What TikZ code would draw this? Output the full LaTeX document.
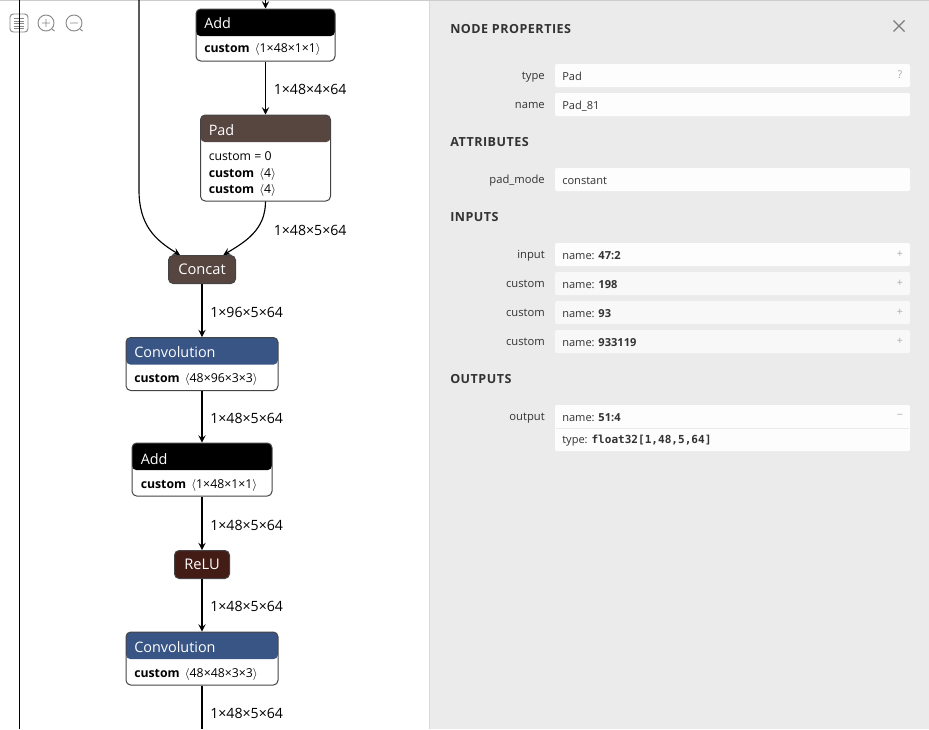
\documentclass[tikz,border=0pt]{standalone}
\usepackage{fontspec}
\setmainfont{Open Sans}
\setmonofont{DejaVu Sans Mono}
\usetikzlibrary{arrows.meta}

\definecolor{panelgray}{HTML}{EBEBEB}
\definecolor{rowgray}{HTML}{F8F8F8}
\definecolor{rowwhite}{HTML}{FDFDFD}
\definecolor{textgray}{HTML}{333333}
\definecolor{edgegray}{HTML}{444444}
\definecolor{signgray}{HTML}{AAAAAA}
\definecolor{padbrown}{HTML}{574540}
\definecolor{convblue}{HTML}{385585}
\definecolor{relured}{HTML}{441C16}

\tikzset{
    opbox/.style={draw=edgegray, line width=0.75pt, rounded corners=3.5pt, fill=white, inner sep=0pt},
    opsmall/.style={opbox, text=white, font=\fontsize{11}{12}\selectfont},
    headfill/.style={path picture={\fill[#1] (path picture bounding box.north west) rectangle ([yshift=-20.4pt]path picture bounding box.north east);}},
    opname/.style={anchor=west, inner sep=0pt, text=white, font=\fontsize{10.8}{12}\selectfont},
    oparg/.style={anchor=west, inner sep=0pt, text=black, font=\fontsize{9.2}{10}\selectfont},
    shapelabel/.style={anchor=west, inner sep=0pt, text=black, font=\fontsize{10.6}{11}\selectfont},
    flow/.style={-{Stealth[length=5.5pt, width=5.5pt, inset=2.2pt]}, line width=0.85pt, black},
    sidehead/.style={anchor=west, inner sep=0pt, text=textgray, font=\fontsize{9.4}{10}\selectfont\bfseries\addfontfeature{LetterSpace=4}},
    rowlabel/.style={anchor=base east, inner sep=0pt, text=textgray, font=\fontsize{8.4}{10}\selectfont},
    rowvalue/.style={anchor=base west, inner sep=0pt, text=textgray, font=\fontsize{8.3}{10}\selectfont},
    rowsign/.style={inner sep=0pt, text=signgray, font=\fontsize{8}{10}\selectfont},
    rowbox/.style={draw=none, fill=rowwhite, rounded corners=1.5pt, minimum width=266.25pt, minimum height=17.25pt, inner sep=0pt},
    rowboxgray/.style={rowbox, fill=rowgray},
}

\begin{document}
\begin{tikzpicture}[x=0.75pt, y=-0.75pt]
    \useasboundingbox (0, 0) rectangle (929, 729);

    % side panel
    \fill[panelgray] (429.5, 0) rectangle (929, 729);
    \draw[draw=black!15, line width=0.6pt] (429.5, 0) -- (429.5, 729);
    \draw[draw=black!20, line width=1pt] (0, 0.5) -- (929, 0.5);

    % toolbar icons
    \draw[signgray!80!black, line width=0.7pt, rounded corners=2.5pt] (10, 14) rectangle (28, 32);
    \foreach \y in {18.5, 21, 23.5, 26, 28.5}
        \draw[signgray!80!black, line width=0.6pt] (14, \y) -- (24, \y);
    \draw[signgray!80!black, line width=0.7pt] (46, 23) circle (8);
    \draw[signgray!80!black, line width=0.7pt] (42, 23) -- (50, 23) (46, 19) -- (46, 27) (52, 29) -- (54.5, 31);
    \draw[signgray!80!black, line width=0.7pt] (74, 23) circle (8);
    \draw[signgray!80!black, line width=0.7pt] (70, 23) -- (78, 23) (80, 29) -- (82.5, 31);

    % graph nodes
    \node[opbox, headfill=black, minimum width=104.25pt, minimum height=39pt] at (265.5, 35) (add1) {};
    \node[opbox, headfill=padbrown, minimum width=97.5pt, minimum height=64.5pt] at (265.5, 158) (pad) {};
    \node[opsmall, fill=padbrown, minimum width=50.25pt, minimum height=21pt] at (202, 269.5) (concat) {Concat};
    \node[opbox, headfill=convblue, minimum width=114pt, minimum height=39.75pt] at (202, 364) (conv1) {};
    \node[opbox, headfill=black, minimum width=105pt, minimum height=39.75pt] at (202, 469.5) (add2) {};
    \node[opsmall, fill=relured, minimum width=41.25pt, minimum height=21pt] at (202, 564.5) (relu) {ReLU};
    \node[opbox, headfill=convblue, minimum width=114pt, minimum height=39.75pt] at (202, 658.5) (conv2) {};

    \node[opname] at (204, 23) (add1name) {Add};
    \node[oparg] at (204, 49) (add1arg) {\textbf{custom}\, $\langle$1×48×1×1$\rangle$};
    \node[opname] at (208.5, 130) (padname) {Pad};
    \node[oparg] at (208.5, 156) (padarg1) {custom = 0};
    \node[oparg] at (208.5, 174) (padarg2) {\textbf{custom}\, $\langle$4$\rangle$};
    \node[oparg] at (208.5, 190) (padarg3) {\textbf{custom}\, $\langle$4$\rangle$};
    \node[opname] at (134, 352) (conv1name) {Convolution};
    \node[oparg] at (134, 379) (conv1arg) {\textbf{custom}\, $\langle$48×96×3×3$\rangle$};
    \node[opname] at (140.5, 459) (add2name) {Add};
    \node[oparg] at (140.5, 485) (add2arg) {\textbf{custom}\, $\langle$1×48×1×1$\rangle$};
    \node[opname] at (134, 647) (conv2name) {Convolution};
    \node[oparg] at (134, 674) (conv2arg) {\textbf{custom}\, $\langle$48×48×3×3$\rangle$};

    % free ends of the connectors
    \coordinate (rail) at (19.5, 0);
    \coordinate (railend) at (19.5, 729);
    \coordinate (skip) at (139, 0);
    \coordinate (skipbend) at (139, 190);
    \coordinate (addin) at (265.5, 0);
    \coordinate (convout) at (202, 729);

    \draw[line width=0.85pt, black] (rail) -- (railend);
    \draw[flow] (addin) -- (add1.north);
    \draw[flow] (add1.south) -- (pad.north);
    \draw[flow] (skip) -- (skipbend) .. controls (139, 225) and (155, 240) .. ([xshift=-16.5pt]concat.north);
    \draw[flow] (pad.south) .. controls (265.5, 230) and (245, 242) .. ([xshift=16pt]concat.north);
    \draw[flow] (concat.south) -- (conv1.north);
    \draw[flow] (conv1.south) -- (add2.north);
    \draw[flow] (add2.south) -- (relu.north);
    \draw[flow] (relu.south) -- (conv2.north);
    \draw[line width=0.85pt, black] (conv2.south) -- (convout);

    \node[shapelabel] at (273.5, 89) (shape1) {1×48×4×64};
    \node[shapelabel] at (273.5, 230) (shape2) {1×48×5×64};
    \node[shapelabel] at (210, 312) (shape3) {1×96×5×64};
    \node[shapelabel] at (210, 418) (shape4) {1×48×5×64};
    \node[shapelabel] at (210, 525) (shape5) {1×48×5×64};
    \node[shapelabel] at (210, 606) (shape6) {1×48×5×64};
    \node[shapelabel] at (210, 713) (shape7) {1×48×5×64};

    % panel headings
    \node[sidehead] at (450, 29.5) (headprops) {NODE PROPERTIES};
    \node[sidehead] at (450, 142.5) (headattrs) {ATTRIBUTES};
    \node[sidehead] at (450, 217.5) (headinputs) {INPUTS};
    \node[sidehead] at (450, 379.5) (headoutputs) {OUTPUTS};
    \draw[edgegray!70, line width=1pt] (893.5, 20.5) -- (904.5, 31.5) (904.5, 20.5) -- (893.5, 31.5);

    % panel rows
    \node[rowbox] at (732.5, 75.5) (typebox) {};
    \node[rowbox] at (732.5, 104.5) (namebox) {};
    \node[rowbox] at (732.5, 179.5) (modebox) {};
    \node[rowbox] at (732.5, 254.5) (inputbox) {};
    \node[rowboxgray] at (732.5, 283.5) (custbox1) {};
    \node[rowboxgray] at (732.5, 312.5) (custbox2) {};
    \node[rowboxgray] at (732.5, 341.5) (custbox3) {};
    \node[rowbox, minimum height=34.5pt] at (732.5, 428) (outbox) {};
    \draw[panelgray, line width=0.7pt] (556, 428) -- (909, 428);

    \node[rowlabel] at (545, 79) (typelabel) {type};
    \node[rowlabel] at (545, 108) (namelabel) {name};
    \node[rowlabel] at (545, 183.5) (modelabel) {pad\_mode};
    \node[rowlabel] at (545, 258) (inputlabel) {input};
    \node[rowlabel] at (545, 287) (custlabel1) {custom};
    \node[rowlabel] at (545, 316) (custlabel2) {custom};
    \node[rowlabel] at (545, 345) (custlabel3) {custom};
    \node[rowlabel] at (545, 420) (outlabel) {output};

    \node[rowvalue] at (562, 80) (typevalue) {Pad};
    \node[rowvalue] at (562, 109) (namevalue) {Pad\_81};
    \node[rowvalue] at (562, 184.5) (modevalue) {constant};
    \node[rowvalue] at (562, 259) (inputvalue) {name: \textbf{47:2}};
    \node[rowvalue] at (562, 288) (custvalue1) {name: \textbf{198}};
    \node[rowvalue] at (562, 317) (custvalue2) {name: \textbf{93}};
    \node[rowvalue] at (562, 346) (custvalue3) {name: \textbf{933119}};
    \node[rowvalue] at (562, 421) (outvalue) {name: \textbf{51:4}};
    \node[rowvalue] at (562, 443.5) (outtype) {type: {\ttfamily\bfseries float32[1,48,5,64]}};

    \node[rowsign] at (900, 75) (typesign) {?};
    \node[rowsign] at (900, 254.5) (inputsign) {+};
    \node[rowsign] at (900, 283.5) (custsign1) {+};
    \node[rowsign] at (900, 312.5) (custsign2) {+};
    \node[rowsign] at (900, 341.5) (custsign3) {+};
    \node[rowsign] at (900, 416.5) (outsign) {−};
\end{tikzpicture}
\end{document}
